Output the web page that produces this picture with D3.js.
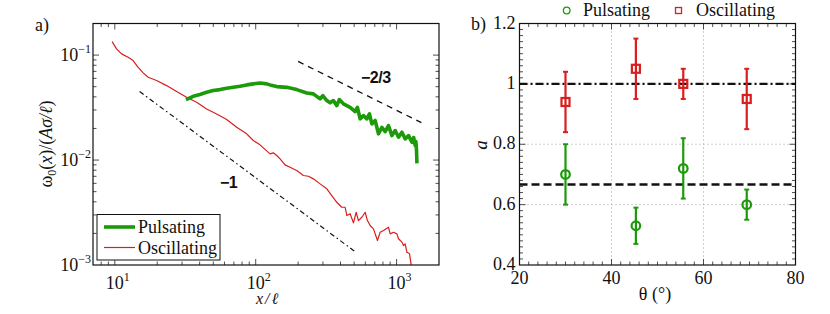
<!DOCTYPE html>
<html>
<head>
<meta charset="utf-8">
<style>
    body { margin: 0; background: #fff; }
    .frame { fill: none; stroke: #111; stroke-width: 1.2px; }
    .tick { stroke: #222; stroke-width: 0.8px; }
    .grid { stroke: #a0a0a0; stroke-width: 1px; stroke-dasharray: 1 3; }
</style>
</head>
<body>
<div id="chart"></div>
<script src="https://d3js.org/d3.v7.min.js"></script>
<script>

    // ---- panel a) data: vorticity decay vs distance (log-log)
    const pulsX = [31.96, 36.02, 40.19, 44.84, 49.94, 55.76, 62.2, 69.3, 77.35, 86.3, 96.2, 107.3, 119.7, 126.4, 141, 166.1, 195.6, 230.4, 256.5, 286.4, 299.4, 319.7, 337.3, 356, 376.5, 392.7, 419.6, 467.8, 507.8, 527.2, 551.1, 581.9, 615.2, 641.9, 667.5, 704.7, 743.5, 786.1, 830.4, 875.9, 926.1, 977.3, 1032, 1091, 1151, 1216, 1285, 1323, 1356, 1370, 1385, 1390, 1395];
    const pulsY = [0.0377, 0.0405, 0.0421, 0.0442, 0.0459, 0.0469, 0.0483, 0.0493, 0.0505, 0.0520, 0.0532, 0.0543, 0.0532, 0.0520, 0.0501, 0.0493, 0.0469, 0.0436, 0.0427, 0.0383, 0.0411, 0.0369, 0.0351, 0.0369, 0.0330, 0.0377, 0.0343, 0.0318, 0.0290, 0.0318, 0.0247, 0.0265, 0.0247, 0.0275, 0.0221, 0.0238, 0.01777, 0.0205, 0.0187, 0.0213, 0.0171, 0.0191, 0.0165, 0.0184, 0.0159, 0.0171, 0.01477, 0.0164, 0.01374, 0.0150, 0.0125, 0.0105, 0.0093];

    const oscX = [9.57, 10.28, 11.16, 12.43, 13.49, 14.64, 15.89, 17.25, 19.79, 23.31, 27.45, 32.33, 38.08, 44.84, 52.81, 62.2, 73.3, 86.3, 96.2, 107.3, 126.4, 133.4, 141, 148.9, 161.5, 175.3, 195.6, 217.8, 236.6, 256.5, 286.4, 319.7, 346.7, 376.5, 408.3, 431.3, 443.6, 467.8, 494.1, 516.4, 535.8, 566.8, 598.4, 620.9, 649.2, 685.5, 731.4, 764.4, 807.2, 875.9, 900.6, 950.8, 1005, 1032, 1091, 1120, 1151, 1184, 1236, 1250, 1270, 1275];
    const oscY = [0.1345, 0.1146, 0.1027, 0.0953, 0.0886, 0.0765, 0.0677, 0.0615, 0.0572, 0.0512, 0.0449, 0.0396, 0.0355, 0.0307, 0.0275, 0.0243, 0.0205, 0.01777, 0.01534, 0.01396, 0.01146, 0.01172, 0.01104, 0.01026, 0.0090, 0.00854, 0.00794, 0.00712, 0.00701, 0.00662, 0.00593, 0.00532, 0.00459, 0.00396, 0.00355, 0.00355, 0.00296, 0.00308, 0.00252, 0.00318, 0.00265, 0.00285, 0.00318, 0.00265, 0.00238, 0.00221, 0.00171, 0.00205, 0.00213, 0.00229, 0.00198, 0.00205, 0.00198, 0.00178, 0.00165, 0.00153, 0.00159, 0.00132, 0.00128, 0.00115, 0.00100, 0.00090];

    // reference power laws (x, y end points)
    const slopeTwoThirds = [[200, 0.087], [1500, 0.0227]];
    const slopeOne = [[15, 0.045], [500, 0.00136]];

    const xTicksA = [10, 100, 1000];
    const xTickExpA = ["1", "2", "3"];
    const yTicksA = [1e-3, 1e-2, 1e-1];
    const yTickExpA = ["\u22123", "\u22122", "\u22121"];

    // ---- panel b) data: exponent a vs angle
    const theta = [30, 45.3, 55.6, 69.4];
    const aPuls = [0.70, 0.53, 0.72, 0.60];
    const aPulsErr = [0.10, 0.06, 0.10, 0.05];
    const aOsc = [0.94, 1.05, 1.00, 0.95];
    const aOscErr = [0.10, 0.10, 0.05, 0.10];
    const xTicksB = [20, 40, 60, 80];
    const yTicksB = [0.4, 0.6, 0.8, 1, 1.2];
    const refLevels = [1, 2 / 3];

    const GREEN = "#1c9a0a";
    const RED = "#d81e1e";

    const svg = d3.select("#chart").append("svg")
        .attr("width", 830).attr("height", 314);

    // text helper: font sits on the text element itself
    function label(g, size, fam) {
        return g.append("text")
            .style("font-family", fam || "Liberation Serif")
            .style("font-size", size + "px")
            .attr("fill", "#111");
    }

    // ================= panel a =================
    const x = d3.scaleLog().domain([7, 2000]).range([93, 439]);
    const y = d3.scaleLog().domain([1e-3, 0.2]).range([265, 23.5]);

    svg.append("clipPath").attr("id", "clipA").append("rect")
        .attr("x", 93).attr("y", 23.5).attr("width", 346).attr("height", 241.5);

    const ga = svg.append("g");

    // ticks, inward on all four sides
    x.ticks().filter(t => t > 7 && t < 2000).forEach(t => {
        const major = xTicksA.includes(t);
        const len = major ? 6 : 3.5;
        ga.append("line").attr("class", "tick").attr("x1", x(t)).attr("x2", x(t)).attr("y1", 265).attr("y2", 265 - len);
        ga.append("line").attr("class", "tick").attr("x1", x(t)).attr("x2", x(t)).attr("y1", 23.5).attr("y2", 23.5 + len);
    });
    y.ticks().filter(t => t > 1e-3 && t < 0.2).forEach(t => {
        const major = yTicksA.some(v => Math.abs(v - t) / v < 1e-6);
        const len = major ? 6 : 3.5;
        ga.append("line").attr("class", "tick").attr("x1", 93).attr("x2", 93 + len).attr("y1", y(t)).attr("y2", y(t));
        ga.append("line").attr("class", "tick").attr("x1", 439).attr("x2", 439 - len).attr("y1", y(t)).attr("y2", y(t));
    });

    xTicksA.forEach((t, i) => {
        const tx = label(ga, 18).attr("x", x(t) + 3).attr("y", 289).attr("text-anchor", "middle");
        tx.append("tspan").text("10");
        tx.append("tspan").attr("dy", -8).style("font-size", "12px").text(xTickExpA[i]);
    });
    yTicksA.forEach((t, i) => {
        const tx = label(ga, 18).attr("x", 91).attr("y", y(t) + 6).attr("text-anchor", "end");
        tx.append("tspan").text("10");
        tx.append("tspan").attr("dy", -8).style("font-size", "12px").text(yTickExpA[i]);
    });

    const line = d3.line().x(d => x(d[0])).y(d => y(d[1]));

    const plot = ga.append("g").attr("clip-path", "url(#clipA)");
    plot.append("path").datum(slopeTwoThirds).attr("d", line)
        .attr("fill", "none").attr("stroke", "#111").attr("stroke-width", 1.3).attr("stroke-dasharray", "6 5");
    plot.append("path").datum(slopeOne).attr("d", line)
        .attr("fill", "none").attr("stroke", "#111").attr("stroke-width", 1.2).attr("stroke-dasharray", "5 3 1.5 3");
    plot.append("path").datum(oscX.map((v, i) => [v, oscY[i]])).attr("d", line)
        .attr("fill", "none").attr("stroke", RED).attr("stroke-width", 1.2).attr("stroke-linejoin", "round");
    plot.append("path").datum(pulsX.map((v, i) => [v, pulsY[i]])).attr("d", line)
        .attr("fill", "none").attr("stroke", GREEN).attr("stroke-width", 3.6).attr("stroke-linejoin", "round");

    label(ga, 16, "Liberation Sans").attr("x", 361).attr("y", 83)
        .style("font-weight", "bold").style("letter-spacing", "-0.5px").text("\u22122/3");
    label(ga, 16, "Liberation Sans").attr("x", 220).attr("y", 188)
        .style("font-weight", "bold").style("letter-spacing", "-0.5px").text("\u22121");

    // legend
    const lg = ga.append("g");
    lg.append("rect").attr("x", 97).attr("y", 214.5).attr("width", 123).attr("height", 45.5)
        .attr("fill", "#fff").attr("stroke", "#111").attr("stroke-width", 1);
    lg.append("line").attr("x1", 104).attr("x2", 135).attr("y1", 227).attr("y2", 227)
        .attr("stroke", GREEN).attr("stroke-width", 3.6);
    lg.append("line").attr("x1", 104).attr("x2", 135).attr("y1", 247.5).attr("y2", 247.5)
        .attr("stroke", RED).attr("stroke-width", 1.2);
    label(lg, 18).attr("x", 138).attr("y", 233).text("Pulsating");
    label(lg, 18).attr("x", 138).attr("y", 253.5).text("Oscillating");

    ga.append("rect").attr("class", "frame").attr("x", 93).attr("y", 23.5).attr("width", 346).attr("height", 241.5);

    // axis titles
    label(ga, 16).attr("x", 268).attr("y", 304).attr("text-anchor", "middle")
        .style("font-style", "italic").style("letter-spacing", "2px").text("x/\u2113");
    const yl = label(ga, 18).attr("transform", "translate(52,144) rotate(-90)").attr("text-anchor", "middle");
    yl.append("tspan").text("\u03c9");
    yl.append("tspan").attr("dy", 4).style("font-size", "12px").text("0");
    yl.append("tspan").attr("dy", -4).text("(");
    yl.append("tspan").style("font-style", "italic").text("x");
    yl.append("tspan").text(")/(");
    yl.append("tspan").style("font-style", "italic").text("A\u03c3/\u2113");
    yl.append("tspan").text(")");

    label(ga, 18).attr("x", 35).attr("y", 31).text("a)");

    // ================= panel b =================
    const xb = d3.scaleLinear().domain([20, 80]).range([519.5, 795.5]);
    const yb = d3.scaleLinear().domain([0.4, 1.2]).range([265, 23.5]);
    const gb = svg.append("g");

    // dotted grid
    xTicksB.slice(1, -1).forEach(t => {
        gb.append("line").attr("class", "grid").attr("x1", xb(t)).attr("x2", xb(t)).attr("y1", 23.5).attr("y2", 265);
    });
    yTicksB.slice(1, -1).forEach(t => {
        gb.append("line").attr("class", "grid").attr("x1", 519.5).attr("x2", 795.5).attr("y1", yb(t)).attr("y2", yb(t));
    });

    d3.range(22, 80, 2).forEach(t => {
        const len = t % 20 === 0 ? 6 : 3.5;
        gb.append("line").attr("class", "tick").attr("x1", xb(t)).attr("x2", xb(t)).attr("y1", 265).attr("y2", 265 - len);
        gb.append("line").attr("class", "tick").attr("x1", xb(t)).attr("x2", xb(t)).attr("y1", 23.5).attr("y2", 23.5 + len);
    });
    d3.range(21, 60).map(i => i / 50).forEach(t => {
        const len = Math.round(t * 50) % 10 === 0 ? 6 : 3.5;
        gb.append("line").attr("class", "tick").attr("x1", 519.5).attr("x2", 519.5 + len).attr("y1", yb(t)).attr("y2", yb(t));
        gb.append("line").attr("class", "tick").attr("x1", 795.5).attr("x2", 795.5 - len).attr("y1", yb(t)).attr("y2", yb(t));
    });

    xTicksB.forEach(t => {
        label(gb, 18).attr("x", xb(t)).attr("y", 284).attr("text-anchor", "middle").text(t);
    });
    yTicksB.forEach(t => {
        label(gb, 18).attr("x", 515.5).attr("y", yb(t) + 5).attr("text-anchor", "end").text(t);
    });

    // reference levels a = 1 and a = 2/3
    gb.append("line").attr("x1", 519.5).attr("x2", 795.5).attr("y1", yb(refLevels[0])).attr("y2", yb(refLevels[0]))
        .attr("stroke", "#111").attr("stroke-width", 2.4).attr("stroke-dasharray", "8 3 2 3");
    gb.append("line").attr("x1", 519.5).attr("x2", 795.5).attr("y1", yb(refLevels[1])).attr("y2", yb(refLevels[1]))
        .attr("stroke", "#111").attr("stroke-width", 2.4).attr("stroke-dasharray", "8 4");

    function errorBars(vals, errs, color) {
        theta.forEach((t, i) => {
            const cx = xb(t);
            gb.append("line").attr("x1", cx).attr("x2", cx).attr("y1", yb(vals[i] - errs[i])).attr("y2", yb(vals[i] + errs[i]))
                .attr("stroke", color).attr("stroke-width", 2.2);
            [vals[i] - errs[i], vals[i] + errs[i]].forEach(v => {
                gb.append("line").attr("x1", cx - 2.5).attr("x2", cx + 2.5).attr("y1", yb(v)).attr("y2", yb(v))
                    .attr("stroke", color).attr("stroke-width", 2);
            });
        });
    }
    errorBars(aOsc, aOscErr, RED);
    errorBars(aPuls, aPulsErr, GREEN);

    theta.forEach((t, i) => {
        gb.append("rect").attr("x", xb(t) - 4).attr("y", yb(aOsc[i]) - 4).attr("width", 8).attr("height", 8)
            .attr("fill", "none").attr("stroke", RED).attr("stroke-width", 2.2);
        gb.append("circle").attr("cx", xb(t)).attr("cy", yb(aPuls[i])).attr("r", 4.3)
            .attr("fill", "none").attr("stroke", GREEN).attr("stroke-width", 2.2);
    });

    gb.append("rect").attr("class", "frame").attr("x", 519.5).attr("y", 23.5).attr("width", 276).attr("height", 241.5);

    label(gb, 18).attr("x", 655).attr("y", 300).attr("text-anchor", "middle").text("\u03b8 (\u00b0)");
    label(gb, 19).attr("transform", "translate(487,145) rotate(-90)").attr("text-anchor", "middle")
        .style("font-style", "italic").text("a");
    label(gb, 18).attr("x", 471).attr("y", 30).text("b)");

    // top legend
    gb.append("circle").attr("cx", 566.7).attr("cy", 10.5).attr("r", 3.3)
        .attr("fill", "none").attr("stroke", GREEN).attr("stroke-width", 1.3);
    label(gb, 18).attr("x", 583).attr("y", 16).text("Pulsating");
    gb.append("rect").attr("x", 675.5).attr("y", 7.5).attr("width", 6).attr("height", 6)
        .attr("fill", "none").attr("stroke", RED).attr("stroke-width", 1.3);
    label(gb, 18).attr("x", 696).attr("y", 16).text("Oscillating");

</script>
</body>
</html>
